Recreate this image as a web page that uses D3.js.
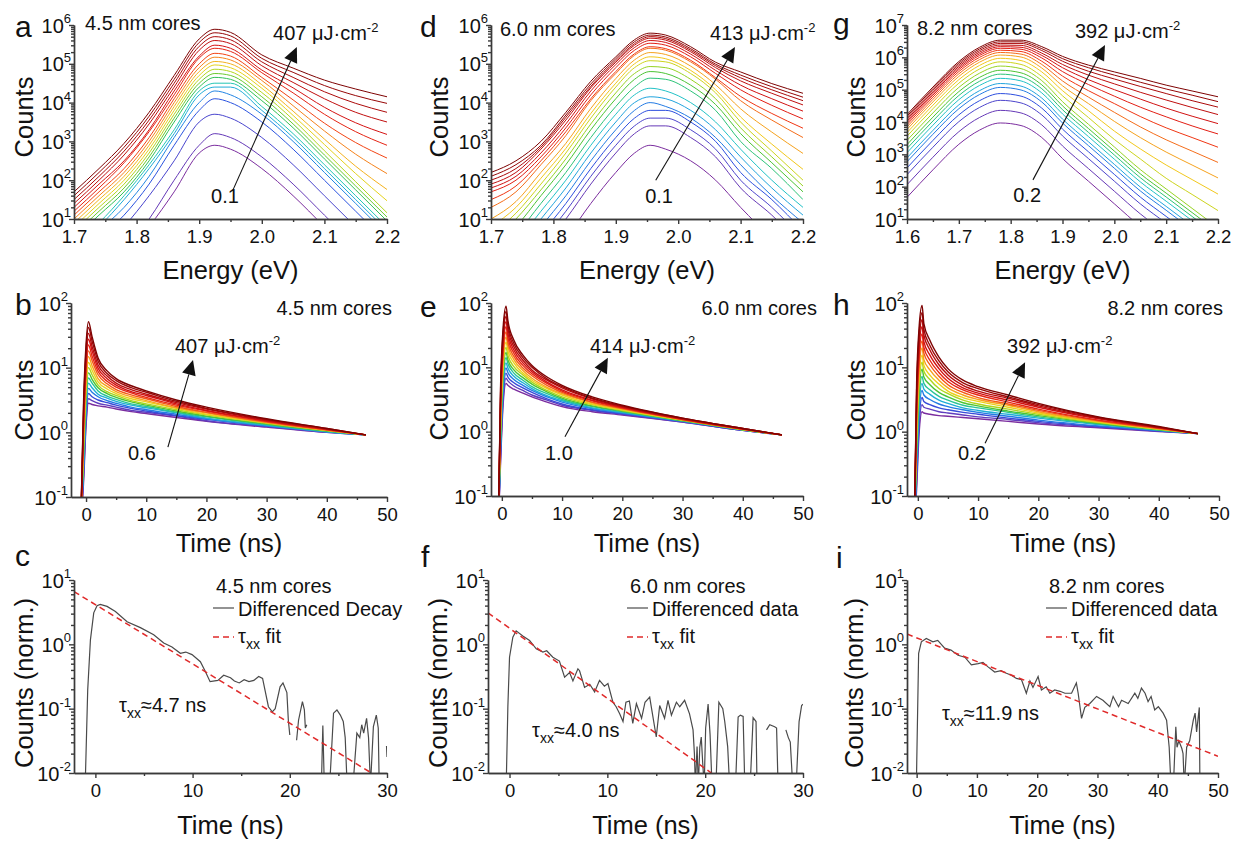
<!DOCTYPE html>
<html>
<head>
<meta charset="utf-8">
<script src="https://cdn.jsdelivr.net/npm/d3@7"></script>
<style>
  body { margin: 0; background: #fff; }
  svg text { font-family: "Liberation Sans", Arial, Helvetica, sans-serif; fill: #111; }
</style>
</head>
<body>
<svg id="fig" width="1236" height="841"></svg>
<script>
// ---- data (log10 of counts) ----

// a: 4.5 nm cores, PL spectra, lowest -> highest fluence
const energyA = [1.70, 1.74, 1.78, 1.82, 1.86, 1.90, 1.925, 1.95, 2.00, 2.05, 2.10, 2.15, 2.20];
const countsA = [
  [-1.3,-0.7,0.0,0.8,1.7,2.7,2.9,2.8,2.3,1.6,0.8,0.0,-0.8],
  [-1.0,-0.4,0.2,1.0,2.0,2.9,3.2,3.1,2.6,1.9,1.1,0.3,-0.5],
  [-0.5,0.1,0.8,1.6,2.5,3.5,3.7,3.6,3.1,2.4,1.6,0.8,0.0],
  [-0.1,0.5,1.1,1.9,2.9,3.8,4.1,4.0,3.5,2.8,2.0,1.2,0.4],
  [0.1,0.7,1.3,2.1,3.1,4.0,4.3,4.2,3.7,3.0,2.2,1.4,0.6],
  [0.2,0.8,1.5,2.3,3.2,4.2,4.4,4.4,3.8,3.1,2.3,1.5,0.7],
  [0.3,0.9,1.6,2.4,3.3,4.3,4.5,4.5,3.9,3.2,2.4,1.6,0.8],
  [0.5,1.1,1.7,2.5,3.5,4.4,4.65,4.6,4.05,3.35,2.55,1.75,0.95],
  [0.6,1.2,1.8,2.6,3.6,4.5,4.75,4.7,4.15,3.45,2.65,1.85,1.05],
  [0.7,1.3,1.9,2.7,3.7,4.6,4.86,4.8,4.26,3.56,2.76,1.96,1.16],
  [0.8,1.4,2.0,2.8,3.8,4.7,4.97,4.9,4.37,3.67,2.92,2.17,1.47],
  [0.9,1.5,2.1,2.9,3.9,4.8,5.06,5.0,4.46,3.78,3.06,2.36,1.76],
  [1.0,1.6,2.2,3.0,4.0,4.9,5.17,5.1,4.57,3.92,3.27,2.67,2.17],
  [1.1,1.7,2.3,3.1,4.1,5.0,5.27,5.2,4.65,4.07,3.47,2.97,2.57],
  [1.2,1.8,2.45,3.25,4.2,5.15,5.40,5.32,4.77,4.25,3.7,3.25,2.9],
  [1.3,1.9,2.5,3.3,4.3,5.2,5.48,5.4,4.84,4.38,3.88,3.48,3.18],
  [1.4,2.0,2.65,3.45,4.4,5.35,5.60,5.52,4.95,4.52,4.1,3.75,3.5],
  [1.5,2.1,2.75,3.55,4.5,5.45,5.70,5.62,5.05,4.65,4.28,3.98,3.75],
  [1.6,2.2,2.85,3.65,4.6,5.55,5.80,5.72,5.14,4.78,4.44,4.18,3.98],
  [1.7,2.3,2.95,3.75,4.7,5.64,5.89,5.81,5.23,4.89,4.58,4.35,4.15]
];

// d: 6.0 nm cores
const energyD = [1.70, 1.74, 1.78, 1.82, 1.86, 1.90, 1.93, 1.955, 1.98, 2.02, 2.06, 2.10, 2.15, 2.20];
const countsD = [
  [-1.7,-1.1,-0.3,0.5,1.4,2.2,2.7,2.9,2.8,2.5,2.0,1.3,0.5,-0.2],
  [-1.2,-0.6,0.2,1.0,1.9,2.7,3.2,3.4,3.4,3.1,2.6,1.8,1.1,0.3],
  [-1.0,-0.4,0.4,1.2,2.1,2.9,3.4,3.6,3.6,3.3,2.8,2.0,1.3,0.5],
  [-0.8,-0.2,0.6,1.4,2.3,3.1,3.6,3.8,3.8,3.5,3.0,2.2,1.5,0.7],
  [-0.6,0.0,0.8,1.6,2.5,3.3,3.8,4.0,3.9,3.6,3.1,2.4,1.6,0.9],
  [-0.5,0.2,1.0,1.8,2.7,3.5,4.0,4.15,4.1,3.8,3.3,2.6,1.8,1.1],
  [-0.2,0.4,1.2,2.0,2.9,3.7,4.2,4.37,4.3,4.0,3.5,2.8,2.0,1.3],
  [0.0,0.6,1.4,2.2,3.1,3.9,4.4,4.63,4.6,4.3,3.8,3.0,2.3,1.5],
  [0.2,0.8,1.6,2.4,3.3,4.1,4.6,4.8,4.75,4.45,3.95,3.2,2.45,1.7],
  [0.4,1.0,1.75,2.55,3.45,4.25,4.75,4.93,4.9,4.6,4.1,3.35,2.6,1.85],
  [0.6,1.15,1.9,2.7,3.6,4.4,4.9,5.08,5.05,4.75,4.25,3.5,2.75,2.0],
  [0.8,1.3,2.05,2.82,3.72,4.5,5.0,5.18,5.13,4.83,4.33,3.63,2.93,2.28],
  [1.0,1.45,2.2,2.95,3.85,4.62,5.1,5.29,5.24,4.94,4.46,3.84,3.24,2.69],
  [1.3,1.7,2.4,3.15,4.05,4.75,5.22,5.40,5.35,5.05,4.6,4.05,3.55,3.1],
  [1.5,1.85,2.5,3.25,4.1,4.8,5.26,5.44,5.39,5.09,4.64,4.16,3.72,3.34],
  [1.7,2.0,2.6,3.35,4.2,4.9,5.35,5.53,5.48,5.18,4.75,4.33,3.93,3.58],
  [1.8,2.1,2.7,3.45,4.3,4.98,5.42,5.60,5.55,5.25,4.83,4.45,4.1,3.78],
  [1.9,2.2,2.8,3.55,4.38,5.04,5.48,5.66,5.61,5.31,4.9,4.56,4.24,3.94],
  [2.0,2.3,2.85,3.62,4.42,5.08,5.52,5.70,5.65,5.35,4.95,4.64,4.33,4.05],
  [2.1,2.4,2.9,3.68,4.48,5.13,5.57,5.74,5.69,5.39,4.99,4.71,4.41,4.14],
  [2.2,2.5,3.0,3.75,4.55,5.18,5.62,5.79,5.74,5.44,5.04,4.79,4.49,4.24]
];

// g: 8.2 nm cores
const energyG = [1.60, 1.65, 1.70, 1.74, 1.78, 1.82, 1.86, 1.90, 1.95, 2.00, 2.05, 2.10, 2.15, 2.20];
const countsG = [
  [1.67,2.52,3.31,3.75,3.97,3.89,3.52,2.87,2.17,1.47,0.77,0.17,-0.43,-1.03],
  [2.06,2.91,3.7,4.14,4.36,4.28,3.91,3.26,2.56,1.86,1.16,0.56,-0.04,-0.64],
  [2.37,3.22,4.01,4.45,4.67,4.59,4.22,3.57,2.87,2.17,1.47,0.87,0.27,-0.33],
  [2.58,3.43,4.22,4.66,4.88,4.8,4.43,3.78,3.08,2.38,1.68,1.08,0.48,-0.12],
  [2.77,3.62,4.41,4.85,5.07,4.99,4.62,3.97,3.27,2.57,1.87,1.27,0.67,0.07],
  [2.89,3.74,4.53,4.97,5.19,5.11,4.74,4.09,3.39,2.69,1.99,1.39,0.79,0.19],
  [3.05,3.9,4.69,5.13,5.35,5.27,4.9,4.25,3.55,2.85,2.15,1.55,0.95,0.35],
  [3.18,4.03,4.82,5.26,5.48,5.4,5.03,4.38,3.68,2.98,2.28,1.68,1.08,0.48],
  [3.3,4.15,4.94,5.38,5.6,5.52,5.15,4.5,3.8,3.1,2.4,1.8,1.2,0.6],
  [3.43,4.28,5.07,5.51,5.73,5.65,5.28,4.63,3.93,3.23,2.53,1.93,1.33,0.73],
  [3.56,4.41,5.2,5.64,5.86,5.78,5.41,4.81,4.14,3.46,2.86,2.26,1.76,1.26],
  [3.67,4.52,5.31,5.75,5.97,5.9,5.55,4.97,4.35,3.72,3.17,2.67,2.22,1.77],
  [3.77,4.62,5.41,5.85,6.07,6.01,5.67,5.12,4.57,4.02,3.52,3.07,2.67,2.27],
  [3.85,4.7,5.49,5.93,6.15,6.1,5.78,5.27,4.77,4.3,3.85,3.45,3.1,2.75],
  [3.92,4.77,5.56,6.0,6.22,6.18,5.88,5.42,4.97,4.57,4.17,3.82,3.52,3.22],
  [3.98,4.83,5.62,6.06,6.28,6.25,5.98,5.56,5.16,4.8,4.46,4.16,3.88,3.63],
  [4.03,4.88,5.67,6.11,6.33,6.31,6.06,5.68,5.31,5.0,4.71,4.43,4.18,3.95],
  [4.08,4.93,5.72,6.16,6.38,6.37,6.13,5.78,5.45,5.18,4.92,4.68,4.45,4.23],
  [4.13,4.98,5.77,6.21,6.43,6.43,6.21,5.88,5.57,5.33,5.1,4.88,4.66,4.46],
  [4.18,5.03,5.82,6.26,6.48,6.48,6.27,5.96,5.68,5.45,5.23,5.02,4.83,4.63],
  [4.23,5.08,5.87,6.31,6.53,6.53,6.33,6.03,5.76,5.55,5.35,5.14,4.96,4.78]
];

// b: 4.5 nm cores, PL decays
const timeB = [-0.9, -0.4, 0.0, 0.4, 1, 2, 3.5, 5, 7.5, 10, 15, 20, 30, 40, 46.5];
const decayB = [
  [-1.5,-0.75,0.10,0.45,0.43,0.41,0.39,0.36,0.32,0.29,0.23,0.17,0.08,0.0,-0.04],
  [-1.5,-0.68,0.17,0.52,0.49,0.45,0.42,0.39,0.34,0.31,0.25,0.18,0.09,0.0,-0.04],
  [-1.5,-0.6,0.25,0.6,0.55,0.5,0.46,0.42,0.37,0.33,0.26,0.2,0.1,0.01,-0.04],
  [-1.5,-0.52,0.33,0.68,0.62,0.55,0.49,0.45,0.39,0.35,0.28,0.21,0.1,0.01,-0.04],
  [-1.5,-0.44,0.41,0.76,0.69,0.59,0.53,0.48,0.42,0.38,0.3,0.22,0.11,0.01,-0.04],
  [-1.5,-0.36,0.49,0.84,0.76,0.64,0.56,0.51,0.44,0.4,0.31,0.24,0.12,0.02,-0.04],
  [-1.5,-0.28,0.57,0.92,0.82,0.69,0.6,0.54,0.47,0.42,0.33,0.25,0.13,0.02,-0.04],
  [-1.5,-0.2,0.65,1.0,0.89,0.73,0.63,0.57,0.49,0.44,0.35,0.27,0.14,0.03,-0.04],
  [-1.5,-0.12,0.73,1.08,0.96,0.78,0.67,0.6,0.52,0.47,0.37,0.28,0.15,0.03,-0.04],
  [-1.5,-0.03,0.82,1.17,1.03,0.83,0.71,0.63,0.55,0.49,0.38,0.3,0.15,0.03,-0.04],
  [-1.5,0.06,0.91,1.26,1.11,0.89,0.75,0.66,0.58,0.52,0.4,0.31,0.16,0.04,-0.04],
  [-1.5,0.15,1.0,1.35,1.18,0.94,0.79,0.7,0.61,0.54,0.42,0.33,0.17,0.04,-0.04],
  [-1.5,0.24,1.09,1.44,1.26,0.99,0.83,0.73,0.63,0.57,0.44,0.34,0.18,0.05,-0.04],
  [-1.5,0.33,1.18,1.53,1.33,1.04,0.87,0.76,0.66,0.59,0.46,0.36,0.19,0.05,-0.04],
  [-1.5,0.42,1.27,1.62,1.41,1.1,0.91,0.8,0.69,0.62,0.48,0.37,0.2,0.06,-0.04],
  [-1.5,0.51,1.36,1.71,1.48,1.15,0.95,0.83,0.72,0.64,0.5,0.39,0.21,0.06,-0.04]
];

// e: 6.0 nm cores
const timeE = [-0.6, -0.2, 0.2, 0.7, 1, 2, 3.5, 5, 7.5, 10, 15, 20, 30, 40, 46.5];
const decayE = [
  [-1.5,-0.45,0.4,0.75,0.72,0.66,0.6,0.54,0.46,0.39,0.31,0.26,0.15,0.02,-0.05],
  [-1.5,-0.37,0.48,0.83,0.79,0.71,0.64,0.57,0.49,0.41,0.33,0.27,0.15,0.02,-0.05],
  [-1.5,-0.29,0.56,0.91,0.85,0.76,0.68,0.61,0.51,0.43,0.34,0.28,0.16,0.02,-0.05],
  [-1.5,-0.21,0.64,0.99,0.92,0.81,0.72,0.64,0.54,0.46,0.36,0.29,0.16,0.03,-0.05],
  [-1.5,-0.13,0.72,1.07,0.99,0.86,0.76,0.67,0.56,0.48,0.37,0.3,0.17,0.03,-0.05],
  [-1.5,-0.05,0.8,1.15,1.06,0.91,0.8,0.7,0.59,0.5,0.39,0.31,0.17,0.03,-0.05],
  [-1.5,0.03,0.88,1.23,1.12,0.96,0.84,0.74,0.62,0.52,0.4,0.32,0.17,0.03,-0.05],
  [-1.5,0.11,0.96,1.31,1.19,1.01,0.88,0.77,0.64,0.54,0.42,0.33,0.18,0.03,-0.05],
  [-1.5,0.19,1.04,1.39,1.26,1.07,0.91,0.8,0.67,0.57,0.43,0.34,0.18,0.04,-0.05],
  [-1.5,0.27,1.12,1.47,1.33,1.12,0.95,0.83,0.69,0.59,0.45,0.35,0.19,0.04,-0.05],
  [-1.5,0.35,1.2,1.55,1.39,1.17,0.99,0.87,0.72,0.61,0.46,0.36,0.19,0.04,-0.05],
  [-1.5,0.43,1.28,1.63,1.46,1.22,1.03,0.9,0.75,0.63,0.48,0.37,0.19,0.04,-0.05],
  [-1.5,0.51,1.36,1.71,1.53,1.27,1.07,0.93,0.77,0.65,0.49,0.38,0.2,0.04,-0.05],
  [-1.5,0.59,1.44,1.79,1.6,1.32,1.11,0.96,0.8,0.68,0.51,0.39,0.2,0.05,-0.05],
  [-1.5,0.67,1.52,1.87,1.66,1.37,1.15,1.0,0.82,0.7,0.52,0.4,0.21,0.05,-0.05],
  [-1.5,0.75,1.6,1.95,1.73,1.42,1.19,1.03,0.85,0.72,0.54,0.41,0.21,0.05,-0.05]
];

// h: 8.2 nm cores
const timeH = [-0.6, -0.2, 0.2, 0.7, 1, 2, 3.5, 5, 7.5, 10, 15, 20, 30, 40, 46.5];
const decayH = [
  [-1.5,-0.89,-0.04,0.31,0.29,0.27,0.25,0.24,0.22,0.2,0.16,0.12,0.06,0.0,-0.03],
  [-1.5,-0.78,0.07,0.42,0.38,0.35,0.31,0.29,0.26,0.23,0.19,0.14,0.07,0.01,-0.03],
  [-1.5,-0.67,0.18,0.53,0.47,0.42,0.37,0.34,0.3,0.27,0.21,0.16,0.08,0.01,-0.03],
  [-1.5,-0.56,0.29,0.64,0.57,0.5,0.43,0.39,0.34,0.3,0.24,0.18,0.09,0.02,-0.03],
  [-1.5,-0.45,0.4,0.75,0.66,0.58,0.49,0.44,0.37,0.33,0.27,0.21,0.11,0.02,-0.03],
  [-1.5,-0.34,0.51,0.86,0.75,0.65,0.55,0.49,0.41,0.37,0.3,0.23,0.12,0.03,-0.03],
  [-1.5,-0.23,0.62,0.97,0.85,0.73,0.61,0.54,0.45,0.4,0.32,0.25,0.13,0.03,-0.03],
  [-1.5,-0.12,0.73,1.08,0.94,0.81,0.67,0.59,0.49,0.43,0.35,0.27,0.14,0.04,-0.03],
  [-1.5,-0.01,0.84,1.19,1.03,0.88,0.74,0.63,0.53,0.47,0.38,0.29,0.15,0.04,-0.03],
  [-1.5,0.1,0.95,1.3,1.12,0.96,0.8,0.68,0.57,0.5,0.41,0.31,0.16,0.05,-0.03],
  [-1.5,0.21,1.06,1.41,1.22,1.04,0.86,0.73,0.61,0.53,0.43,0.33,0.17,0.05,-0.03],
  [-1.5,0.32,1.17,1.52,1.31,1.11,0.92,0.78,0.65,0.57,0.46,0.35,0.18,0.06,-0.03],
  [-1.5,0.43,1.28,1.63,1.4,1.19,0.98,0.83,0.68,0.6,0.49,0.38,0.2,0.06,-0.03],
  [-1.5,0.54,1.39,1.74,1.5,1.27,1.04,0.88,0.72,0.63,0.52,0.4,0.21,0.07,-0.03],
  [-1.5,0.65,1.5,1.85,1.59,1.34,1.1,0.93,0.76,0.67,0.54,0.42,0.22,0.07,-0.03],
  [-1.5,0.76,1.61,1.96,1.68,1.42,1.16,0.98,0.8,0.7,0.57,0.44,0.23,0.08,-0.03]
];

// c, f, i: differenced decays [time ns, log10 norm. counts]; null = gap
const diffC = [
  [-1.05,-2.2],[-0.79,-0.71],[-0.51,0.07],[-0.17,0.49],[0.17,0.6],[0.5,0.62],[1.2,0.59],
  [2.06,0.51],[3.26,0.35],[4.63,0.26],[6.0,0.15],[7.03,0.02],[7.88,-0.04],[8.74,-0.14],
  [9.3,-0.12],[9.94,-0.16],[10.8,-0.27],[11.3,-0.42],[11.8,-0.58],[12.6,-0.56],[13.2,-0.48],
  [13.9,-0.52],[14.3,-0.57],[14.8,-0.6],[15.3,-0.55],[15.8,-0.58],[16.3,-0.56],[16.8,-0.5],
  [17.2,-0.53],[17.8,-0.97],[18.2,-1.05],[18.5,-1.0],[19.0,-0.66],[19.3,-0.6],[19.7,-0.75],
  [19.85,-1.18],[20.0,-1.41],null,
  [20.7,-1.49],[20.9,-1.18],[21.3,-0.89],[21.5,-1.02],[21.6,-1.3],[21.75,-1.25],null,
  [23.25,-2.2],[23.4,-1.26],[23.55,-2.2],[24.1,-2.2],[24.5,-1.07],[24.85,-1.02],[25.2,-1.1],
  [25.5,-1.2],[25.7,-1.45],[25.9,-2.2],[26.5,-2.2],[26.9,-1.38],[27.2,-1.45],[27.4,-1.25],
  [27.6,-1.38],[27.9,-1.15],[28.1,-1.45],[28.3,-2.2],[28.6,-1.28],[28.9,-1.1],[29.1,-1.3],
  [29.2,-2.2],null,[29.95,-1.58],[30.0,-1.75]
];
const diffF = [
  [-0.34,-2.2],[-0.17,-0.97],[0,-0.2],[0.34,0.11],[0.68,0.21],[1.36,0.13],[2.05,0.06],
  [2.73,-0.07],[3.41,-0.12],[3.8,-0.1],[4.43,-0.2],[5.1,-0.26],[5.63,-0.51],[6.14,-0.44],
  [6.48,-0.57],[6.99,-0.38],[7.16,-0.41],[7.67,-0.67],[8.2,-0.62],[8.7,-0.74],[9.2,-0.56],
  [9.7,-0.65],[10.06,-0.61],[10.57,-0.9],[10.9,-0.97],[11.26,-1.08],[11.6,-1.2],[11.9,-0.9],
  [12.25,-0.88],[12.6,-1.23],[12.97,-0.92],[13.5,-1.15],[13.85,-0.9],[14.33,-0.82],[14.5,-0.98],
  [15.0,-1.44],[15.35,-0.95],[15.85,-1.15],[16.2,-0.87],[16.55,-1.1],[17.06,-0.9],[17.4,-0.97],
  [17.9,-0.87],[18.4,-1.08],[18.76,-1.33],[18.9,-1.7],[19.0,-2.2],[19.17,-1.59],[19.3,-2.2],
  [19.45,-1.6],[19.6,-1.44],[19.75,-1.85],[19.9,-2.2],[20.05,-1.3],[20.3,-0.93],[20.5,-1.4],
  [20.7,-2.2],[21.1,-2.2],[21.4,-0.9],[21.8,-1.0],[22.0,-1.2],[22.3,-1.59],[22.5,-2.2],
  [23.1,-2.2],[23.37,-1.13],[23.6,-1.1],[23.88,-1.12],[24.05,-2.2],[24.6,-2.2],[24.9,-1.14],
  [25.2,-1.2],[25.3,-2.2],null,[26.27,-1.33],[26.6,-1.25],[27.1,-1.28],[27.3,-1.3],[27.45,-2.2],
  null,[28.25,-1.33],[28.5,-1.45],[28.7,-1.52],[28.95,-2.2],[29.3,-2.2],[29.6,-1.2],
  [29.86,-0.95],[30.0,-0.93]
];
const diffI = [
  [-0.05,-2.2],[0.33,-0.14],[0.78,0.04],[1.6,0.09],[2.7,0.04],[3.5,0.06],[4.65,-0.06],
  [5.7,-0.09],[6.87,-0.17],[8.0,-0.2],[9.08,-0.32],[10.2,-0.3],[11.0,-0.28],[11.85,-0.35],
  [12.95,-0.43],[14.0,-0.41],[14.9,-0.45],[15.7,-0.48],[16.56,-0.53],[17.4,-0.55],[18.2,-0.76],
  [18.8,-0.57],[19.3,-0.67],[20.15,-0.5],[20.7,-0.71],[21.5,-0.66],[22.1,-0.76],[22.9,-0.71],
  [23.8,-0.73],[24.6,-0.76],[25.7,-0.76],[26.5,-0.6],[26.8,-0.76],[27.36,-1.15],[27.9,-0.98],
  [28.74,-0.92],[29.85,-0.81],[30.9,-0.87],[32.06,-0.97],[32.6,-0.81],[33.5,-0.97],[34.0,-0.87],
  [35.1,-0.92],[36.2,-0.76],[36.7,-0.84],[37.3,-0.68],[37.9,-0.76],[38.4,-0.89],[38.9,-0.81],
  [39.5,-1.02],[40.1,-0.97],[40.9,-1.07],[41.47,-1.18],[41.9,-1.6],[42.2,-2.2],[42.6,-2.2],
  [43.0,-1.28],[43.2,-1.6],[43.5,-1.5],[44.0,-1.62],[44.2,-1.7],[44.4,-2.2],[44.8,-1.6],
  [45.3,-1.5],[45.9,-1.18],[46.2,-1.07],[46.45,-1.36],[46.9,-0.98],[47.0,-2.2]
];

// tau_xx fits: straight on the log axis, ends
const fitC = [[-2.2, 0.82], [28.4, -2.0]];
const fitF = [[-2.2, 0.49], [20.64, -2.0]];
const fitI = [[-1.6, 0.16], [50.0, -1.74]];

const coreLabels = ['4.5 nm cores', '6.0 nm cores', '8.2 nm cores'];
const fluenceHigh = ['407', '413', '392', '407', '414', '392'];
const fluenceLow = ['0.1', '0.1', '0.2', '0.6', '1.0', '0.2'];
const tauLabels = ['4.7', '4.0', '11.9'];
const diffLegend = ['Differenced Decay', 'Differenced data', 'Differenced data'];

const rainbowStops = ['#7b2d9f', '#5b3fc4', '#2b4fe0', '#1f98e6', '#22c7c4', '#35bf3a',
  '#a8d61e', '#f1d11c', '#f7961f', '#f23a13', '#dc1414', '#c00f0f', '#a20909', '#7e0303'];

// ---- drawing ----
const svg = d3.select('#fig');
const rainbow = d3.piecewise(d3.interpolateRgb, rainbowStops);
const AXIS = '#3a3a3a';
const LABEL_SIZE = 25.5;

function logMinor(domain) {
  const out = [];
  const lo = Math.round(Math.log10(domain[0])), hi = Math.round(Math.log10(domain[1]));
  for (let n = lo; n < hi; n++) for (let k = 2; k <= 9; k++) out.push(k * 10 ** n);
  return out;
}
function decades(domain) {
  const out = [];
  const lo = Math.round(Math.log10(domain[0])), hi = Math.round(Math.log10(domain[1]));
  for (let n = lo; n <= hi; n++) out.push(10 ** n);
  return out;
}

function setup(p) {
  const [x0, x1, y0, y1] = p.box;
  const x = d3.scaleLinear().domain(p.xDomain).range([x0, x1]);
  const y = d3.scaleLog().domain(p.yDomain).range([y1, y0]);
  svg.append('clipPath').attr('id', 'clip-' + p.id)
    .append('rect').attr('x', x0).attr('y', y0).attr('width', x1 - x0).attr('height', y1 - y0);
  const plot = svg.append('g').attr('clip-path', `url(#clip-${p.id})`);
  return { x, y, plot };
}

function drawAxes(p, x, y) {
  const [x0, x1, y0, y1] = p.box;
  const g = svg.append('g').style('color', AXIS);

  const bottom = g.append('g').attr('transform', `translate(0,${y1})`);
  bottom.append('g').call(d3.axisBottom(x).tickValues(p.xMinor).tickSize(3).tickSizeOuter(0).tickFormat(''));
  bottom.append('g').call(d3.axisBottom(x).tickValues(p.xMajor).tickSize(5).tickSizeOuter(0).tickFormat(p.xFormat))
    .selectAll('text').attr('y', 24).attr('dy', null).attr('font-size', 18.5).style('fill', '#111');

  const left = g.append('g').attr('transform', `translate(${x0},0)`);
  left.append('g').call(d3.axisLeft(y).tickValues(logMinor(p.yDomain)).tickSize(3).tickSizeOuter(0).tickFormat(''));
  left.append('g').call(d3.axisLeft(y).tickValues(decades(p.yDomain)).tickSize(5).tickSizeOuter(0).tickFormat(''));
  decades(p.yDomain).forEach(v => {
    const t = left.append('text').attr('x', -3).attr('y', y(v) + 7.5)
      .attr('text-anchor', 'end').attr('font-size', 20);
    t.append('tspan').text('10');
    t.append('tspan').attr('dy', -9.5).attr('font-size', 13).text(Math.round(Math.log10(v)));
  });
  g.selectAll('path, line').attr('stroke-width', 1.4);

  svg.append('text')
    .attr('transform', `translate(${p.yLabelX},${p.yLabelY}) rotate(-90)`)
    .attr('text-anchor', 'middle').attr('font-size', LABEL_SIZE).text(p.yLabel);
  svg.append('text').attr('x', (x0 + x1) / 2).attr('y', p.xLabelY)
    .attr('text-anchor', 'middle').attr('font-size', LABEL_SIZE).text(p.xLabel);
}

function arrow(x, y, from, to) {
  const xa = x(from[0]), ya = y(10 ** from[1]), xb = x(to[0]), yb = y(10 ** to[1]);
  const ang = Math.atan2(yb - ya, xb - xa);
  const L = 15, W = 7;
  const bx = xb - L * Math.cos(ang), by = yb - L * Math.sin(ang);
  svg.append('line').attr('x1', xa).attr('y1', ya).attr('x2', bx).attr('y2', by)
    .attr('stroke', '#111').attr('stroke-width', 1.1);
  svg.append('path')
    .attr('d', `M${xb},${yb}L${bx + W * Math.sin(ang)},${by - W * Math.cos(ang)}L${bx - W * Math.sin(ang)},${by + W * Math.cos(ang)}Z`)
    .attr('fill', '#111');
}

function fluenceText(x, y, pos, value) {
  const t = svg.append('text').attr('x', x(pos[0])).attr('y', y(10 ** pos[1])).attr('font-size', 20);
  t.append('tspan').text(value + ' \u03bcJ\u00b7cm');
  t.append('tspan').attr('dy', -8).attr('font-size', 13).text('-2');
}
function plainText(x, y, pos, value) {
  svg.append('text').attr('x', x(pos[0])).attr('y', y(10 ** pos[1])).attr('font-size', 20).text(value);
}

// top row: spectra
const spectraPanels = [
  { id: 'a', box: [74, 387, 25, 219], xDomain: [1.7, 2.2], yDomain: [10, 1e6], xs: energyA, rows: countsA,
    xMajor: [1.7, 1.8, 1.9, 2.0, 2.1, 2.2], xMinor: [1.75, 1.85, 1.95, 2.05, 2.15], yLabelX: 33,
    title: [85, 30], hi: [2.018, 5.61], lo: [1.919, 1.41], from: [1.954, 1.75], to: [2.056, 5.43] },
  { id: 'd', box: [491, 803, 25, 219], xDomain: [1.7, 2.2], yDomain: [10, 1e6], xs: energyD, rows: countsD,
    xMajor: [1.7, 1.8, 1.9, 2.0, 2.1, 2.2], xMinor: [1.75, 1.85, 1.95, 2.05, 2.15], yLabelX: 448,
    title: [500, 36], hi: [2.051, 5.61], lo: [1.947, 1.41], from: [1.964, 2.0], to: [2.091, 5.43] },
  { id: 'g', box: [907, 1218, 25, 219], xDomain: [1.6, 2.2], yDomain: [10, 1e7], xs: energyG, rows: countsG,
    xMajor: [1.6, 1.7, 1.8, 1.9, 2.0, 2.1, 2.2], xMinor: [1.65, 1.75, 1.85, 1.95, 2.05, 2.15], yLabelX: 865,
    title: [917, 35], hi: [1.924, 6.6], lo: [1.805, 1.53], from: [1.843, 2.21], to: [1.982, 6.38] }
];
spectraPanels.forEach((p, k) => {
  Object.assign(p, { xFormat: d3.format('.1f'), yLabel: 'Counts', yLabelY: 117, xLabel: 'Energy (eV)', xLabelY: 279 });
  const { x, y, plot } = setup(p);
  const line = d3.line().x((d, i) => x(p.xs[i])).y(d => y(10 ** d)).curve(d3.curveMonotoneX);
  plot.selectAll('path').data(p.rows).join('path')
    .attr('d', line).attr('fill', 'none').attr('stroke-width', 1)
    .attr('stroke', (d, i) => rainbow(i / (p.rows.length - 1)));
  drawAxes(p, x, y);
  svg.append('text').attr('x', p.title[0]).attr('y', p.title[1]).attr('font-size', 20).text(coreLabels[k]);
  arrow(x, y, p.from, p.to);
  fluenceText(x, y, p.hi, fluenceHigh[k]);
  plainText(x, y, p.lo, fluenceLow[k]);
});

// middle row: decays
const decayPanels = [
  { id: 'b', box: [71, 387, 303, 497], xDomain: [-2.5, 50], xs: timeB, rows: decayB, yLabelX: 33,
    coreX: 392, hi: [14.78, 1.23], lo: [6.97, -0.43], from: [13.6, -0.23], to: [17.77, 1.12] },
  { id: 'e', box: [491, 803, 303, 496], xDomain: [-1.8, 50], xs: timeE, rows: decayE, yLabelX: 448,
    coreX: 817, hi: [14.63, 1.22], lo: [7.16, -0.44], from: [10.48, -0.08], to: [17.61, 1.15] },
  { id: 'h', box: [907, 1219, 303, 496], xDomain: [-1.8, 50], xs: timeH, rows: decayH, yLabelX: 865,
    coreX: 1223, hi: [14.81, 1.22], lo: [6.67, -0.44], from: [11.16, -0.18], to: [17.8, 1.08] }
];
decayPanels.forEach((p, k) => {
  Object.assign(p, { yDomain: [0.1, 100], xMajor: [0, 10, 20, 30, 40, 50], xMinor: [5, 15, 25, 35, 45],
    xFormat: d3.format('d'), yLabel: 'Counts', yLabelY: 400, xLabel: 'Time (ns)', xLabelY: 552 });
  const { x, y, plot } = setup(p);
  const line = d3.line().x((d, i) => x(p.xs[i])).y(d => y(10 ** d)).curve(d3.curveMonotoneX);
  plot.selectAll('path').data(p.rows).join('path')
    .attr('d', line).attr('fill', 'none').attr('stroke-width', 1.4)
    .attr('stroke', (d, i) => rainbow(i / (p.rows.length - 1)));
  drawAxes(p, x, y);
  svg.append('text').attr('x', p.coreX).attr('y', 315).attr('text-anchor', 'end')
    .attr('font-size', 20).text(coreLabels[k]);
  arrow(x, y, p.from, p.to);
  fluenceText(x, y, p.hi, fluenceHigh[k + 3]);
  plainText(x, y, p.lo, fluenceLow[k + 3]);
});

// bottom row: differenced decays + fits
const diffPanels = [
  { id: 'c', box: [74, 387, 580, 773], xDomain: [-2.2, 30], data: diffC, fit: fitC, yLabelX: 33,
    xMajor: [0, 10, 20, 30], xMinor: [5, 15, 25], tau: [2.43, -1.05] },
  { id: 'f', box: [488, 803, 580, 773], xDomain: [-2.2, 30], data: diffF, fit: fitF, yLabelX: 447,
    xMajor: [0, 10, 20, 30], xMinor: [5, 15, 25], tau: [2.3, -1.44] },
  { id: 'i', box: [907, 1218, 580, 773], xDomain: [-1.6, 50], data: diffI, fit: fitI, yLabelX: 863,
    xMajor: [0, 10, 20, 30, 40, 50], xMinor: [5, 15, 25, 35, 45], tau: [4.2, -1.18] }
];
diffPanels.forEach((p, k) => {
  Object.assign(p, { yDomain: [0.01, 10], xFormat: d3.format('d'), yLabel: 'Counts (norm.)',
    yLabelY: 683, xLabel: 'Time (ns)', xLabelY: 834 });
  const { x, y, plot } = setup(p);
  const line = d3.line().defined(d => d !== null).x(d => x(d[0])).y(d => y(10 ** d[1]));
  plot.append('path').datum(p.data).attr('d', line)
    .attr('fill', 'none').attr('stroke', '#4a4a4a').attr('stroke-width', 1.2);
  plot.append('path').datum(p.fit).attr('d', line)
    .attr('fill', 'none').attr('stroke', '#e02a2a').attr('stroke-width', 1.5).attr('stroke-dasharray', '6,4');
  drawAxes(p, x, y);

  const x0 = p.box[0], y0 = p.box[2];
  svg.append('text').attr('x', x0 + 142).attr('y', y0 + 13).attr('font-size', 20).text(coreLabels[k]);
  svg.append('line').attr('x1', x0 + 139).attr('x2', x0 + 160).attr('y1', y0 + 28).attr('y2', y0 + 28)
    .attr('stroke', '#4a4a4a').attr('stroke-width', 1.2);
  svg.append('text').attr('x', x0 + 164).attr('y', y0 + 36).attr('font-size', 20).text(diffLegend[k]);
  svg.append('line').attr('x1', x0 + 139).attr('x2', x0 + 160).attr('y1', y0 + 57).attr('y2', y0 + 57)
    .attr('stroke', '#e02a2a').attr('stroke-width', 1.5).attr('stroke-dasharray', '6,4');
  const fl = svg.append('text').attr('x', x0 + 164).attr('y', y0 + 63).attr('font-size', 20);
  fl.append('tspan').text('\u03c4');
  fl.append('tspan').attr('dy', 6).attr('font-size', 14).text('xx');
  fl.append('tspan').attr('dy', -6).text(' fit');

  const tt = svg.append('text').attr('x', x(p.tau[0])).attr('y', y(10 ** p.tau[1])).attr('font-size', 20);
  tt.append('tspan').text('\u03c4');
  tt.append('tspan').attr('dy', 6).attr('font-size', 14).text('xx');
  tt.append('tspan').attr('dy', -6).text('\u2248' + tauLabels[k] + ' ns');
});

// panel letters
const letters = [['a', 15, 37], ['b', 15, 315], ['c', 15, 566], ['d', 420, 37], ['e', 420, 317],
  ['f', 421, 567], ['g', 833, 34], ['h', 833, 315], ['i', 836, 568]];
svg.selectAll('text.letter').data(letters).join('text').attr('class', 'letter')
  .attr('x', d => d[1]).attr('y', d => d[2]).attr('font-size', 30).text(d => d[0]);
</script>
</body>
</html>
